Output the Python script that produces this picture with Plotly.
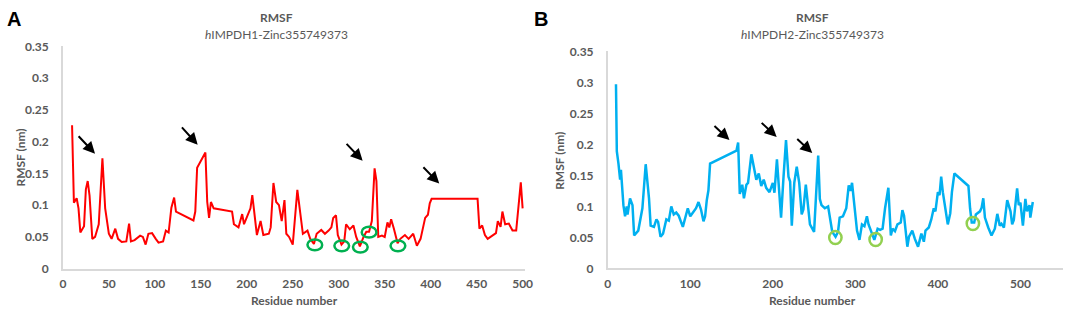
import plotly.graph_objects as go

# ---------------- data ----------------
a_residue = [10, 12, 15, 17, 19, 23, 25, 27, 29, 32, 35, 39, 43, 46, 50, 53, 57, 60, 64, 69,
             72, 74, 78, 84, 87, 90, 93, 97, 101, 104, 109, 112, 115, 118, 121, 123, 142, 144, 146, 155,
             157, 159, 161, 164, 184, 186, 191, 195, 197, 200, 204, 206, 209, 211, 215, 218, 224, 226, 229, 232,
             235, 238, 241, 243, 246, 250, 255, 258, 261, 266, 269, 273, 276, 281, 285, 289, 292, 294, 297, 299,
             303, 306, 308, 312, 316, 319, 323, 327, 330, 333, 336, 339, 341, 343, 347, 350, 353, 355, 357, 360,
             364, 367, 372, 376, 381, 385, 389, 394, 397, 399, 401, 451, 453, 456, 459, 462, 468, 471, 473, 476,
             478, 481, 485, 489, 493, 496, 498, 500]
a_rmsf = [0.226, 0.104, 0.111, 0.095, 0.057, 0.067, 0.125, 0.138, 0.115, 0.047, 0.050, 0.070, 0.174, 0.095, 0.055, 0.047, 0.063, 0.047, 0.042, 0.043,
          0.071, 0.043, 0.045, 0.052, 0.050, 0.038, 0.055, 0.056, 0.047, 0.041, 0.043, 0.060, 0.057, 0.096, 0.112, 0.090, 0.076, 0.090, 0.159, 0.183,
          0.105, 0.080, 0.105, 0.095, 0.090, 0.070, 0.065, 0.086, 0.070, 0.080, 0.095, 0.116, 0.080, 0.053, 0.075, 0.053, 0.055, 0.065, 0.135, 0.105,
          0.100, 0.075, 0.108, 0.055, 0.050, 0.038, 0.124, 0.085, 0.055, 0.060, 0.047, 0.039, 0.055, 0.061, 0.055, 0.060, 0.065, 0.080, 0.084, 0.053,
          0.038, 0.043, 0.070, 0.062, 0.068, 0.050, 0.035, 0.050, 0.058, 0.058, 0.075, 0.158, 0.138, 0.050, 0.052, 0.050, 0.073, 0.065, 0.078, 0.063,
          0.040, 0.047, 0.053, 0.047, 0.055, 0.036, 0.047, 0.080, 0.085, 0.103, 0.110, 0.110, 0.063, 0.068, 0.053, 0.047, 0.053, 0.056, 0.075, 0.066,
          0.090, 0.070, 0.071, 0.060, 0.060, 0.100, 0.136, 0.095]

b_residue = [10, 11, 13, 15, 16, 17, 19, 21, 23, 24, 27, 30, 32, 37, 40, 42, 46, 50, 52, 56,
             59, 61, 64, 67, 71, 74, 77, 80, 83, 86, 91, 97, 100, 103, 107, 110, 113, 116, 118, 120,
             122, 124, 156, 158, 160, 163, 165, 168, 170, 174, 177, 180, 183, 186, 189, 192, 196, 200, 202, 205,
             207, 210, 213, 216, 219, 221, 223, 226, 229, 232, 235, 237, 240, 243, 245, 250, 252, 255, 257, 259,
             263, 267, 272, 276, 279, 281, 285, 289, 292, 294, 296, 299, 302, 305, 308, 311, 314, 316, 319, 323,
             327, 330, 333, 336, 340, 343, 345, 348, 351, 355, 357, 359, 363, 365, 369, 372, 376, 380, 383, 385,
             389, 392, 395, 397, 400, 402, 404, 406, 409, 412, 415, 417, 420, 437, 439, 441, 444, 446, 451, 453,
             455, 457, 461, 465, 469, 472, 475, 477, 480, 484, 488, 490, 492, 496, 498, 500, 503, 506, 508, 511,
             512, 515]
b_rmsf = [0.297, 0.189, 0.169, 0.143, 0.159, 0.140, 0.102, 0.084, 0.100, 0.087, 0.113, 0.102, 0.053, 0.061, 0.082, 0.097, 0.168, 0.113, 0.069, 0.067,
          0.079, 0.075, 0.051, 0.056, 0.079, 0.077, 0.100, 0.087, 0.090, 0.085, 0.067, 0.097, 0.084, 0.090, 0.097, 0.107, 0.095, 0.076, 0.084, 0.110,
          0.126, 0.169, 0.190, 0.203, 0.120, 0.135, 0.113, 0.135, 0.138, 0.184, 0.164, 0.143, 0.153, 0.133, 0.143, 0.130, 0.123, 0.138, 0.122, 0.176,
          0.138, 0.082, 0.148, 0.207, 0.148, 0.140, 0.069, 0.138, 0.164, 0.138, 0.087, 0.095, 0.135, 0.102, 0.071, 0.059, 0.112, 0.182, 0.112, 0.102,
          0.097, 0.100, 0.059, 0.051, 0.059, 0.082, 0.084, 0.097, 0.134, 0.125, 0.138, 0.097, 0.061, 0.046, 0.071, 0.068, 0.084, 0.071, 0.059, 0.046,
          0.064, 0.062, 0.064, 0.097, 0.130, 0.053, 0.064, 0.060, 0.071, 0.074, 0.094, 0.085, 0.035, 0.051, 0.061, 0.048, 0.035, 0.056, 0.043, 0.061,
          0.066, 0.079, 0.097, 0.092, 0.123, 0.118, 0.148, 0.123, 0.097, 0.071, 0.089, 0.123, 0.153, 0.133, 0.097, 0.074, 0.074, 0.087, 0.092, 0.098,
          0.113, 0.082, 0.066, 0.053, 0.064, 0.088, 0.069, 0.072, 0.066, 0.110, 0.092, 0.071, 0.078, 0.129, 0.102, 0.106, 0.069, 0.112, 0.092, 0.102,
          0.082, 0.107]

y_ticks = [0, 0.05, 0.1, 0.15, 0.2, 0.25, 0.3, 0.35]
y_tick_text = ["0", "0.05", "0.1", "0.15", "0.2", "0.25", "0.3", "0.35"]
a_x_ticks = [0, 50, 100, 150, 200, 250, 300, 350, 400, 450, 500]
b_x_ticks = [0, 100, 200, 300, 400, 500]

# arrows: (tail residue, tail value, head residue, head value)
a_arrows = [(15.6, 0.211, 35, 0.181), (128, 0.225, 146.6, 0.195),
            (307, 0.199, 326, 0.170), (390.5, 0.162, 409.3, 0.134)]
b_arrows = [(127.5, 0.232, 147.5, 0.207), (184.7, 0.237, 204.7, 0.212),
            (227.8, 0.211, 247.8, 0.186)]
# highlighted residues (residue, value)
a_marks = [(274, 0.0375), (303.3, 0.036), (323.5, 0.034), (333, 0.0575), (364.4, 0.036)]
b_marks = [(275.8, 0.0497), (324.6, 0.0466), (442.4, 0.0723)]

# ---------------- figure ----------------
W, H = 1072, 325
FONT = "Lato"
GREY = "#595959"

fig = go.Figure()
fig.add_trace(go.Scatter(x=a_residue, y=a_rmsf, mode="lines",
                         line=dict(color="#ff0000", width=2), xaxis="x", yaxis="y", showlegend=False))
fig.add_trace(go.Scatter(x=b_residue, y=b_rmsf, mode="lines",
                         line=dict(color="#00b0f0", width=2.5), xaxis="x2", yaxis="y2", showlegend=False))

def px(x):
    return x / W

def py(y):
    return 1 - y / H

axis_common = dict(showgrid=False, zeroline=False, showline=True, linecolor="#d9d9d9", linewidth=1.5,
                   ticks="", tickfont=dict(family=FONT, size=12, color=GREY, weight="bold"),
                   fixedrange=True)

fig.update_layout(
    width=W, height=H, margin=dict(l=0, r=0, t=0, b=0),
    paper_bgcolor="white", plot_bgcolor="white",
    xaxis=dict(domain=[px(60.5), px(527.8)], range=[0, 503], tickvals=a_x_ticks,
               anchor="y", ticklabelstandoff=3, **axis_common),
    yaxis=dict(domain=[py(273.3), py(40.3)], range=[0, 0.35], tickvals=y_ticks, ticktext=y_tick_text,
               anchor="x", ticklabelstandoff=10, **axis_common),
    xaxis2=dict(domain=[px(611), px(1070.5)], range=[0, 551], tickvals=b_x_ticks,
                anchor="y2", ticklabelstandoff=3, **axis_common),
    yaxis2=dict(domain=[py(273), py(45.5)], range=[0, 0.35], tickvals=y_ticks, ticktext=y_tick_text,
                anchor="x2", ticklabelstandoff=10, **axis_common),
)

ann = []
# panel letters
ann.append(dict(x=px(11), y=py(12), text="<b>A</b>", font=dict(family="Liberation Sans", size=20, color="black")))
ann.append(dict(x=px(544), y=py(12), text="<b>B</b>", font=dict(family="Liberation Sans", size=20, color="black")))
# titles
for cx, name in [(276, "<i>h</i>IMPDH1-Zinc355749373"), (818, "<i>h</i>IMPDH2-Zinc355749373")]:
    ann.append(dict(x=px(cx), y=py(10), text="<b>RMSF</b>", font=dict(family=FONT, size=12, color=GREY)))
    ann.append(dict(x=px(cx), y=py(28), text=name, font=dict(family=FONT, size=12, color=GREY)))
# axis titles
for cx in [295, 818]:
    ann.append(dict(x=px(cx), y=py(307), text="<b>Residue number</b>", font=dict(family=FONT, size=12, color=GREY)))
for cx, cy in [(18, 157), (562, 160)]:
    ann.append(dict(x=px(cx), y=py(cy), text="<b>RMSF (nm)</b>", textangle=-90,
                    font=dict(family=FONT, size=12, color=GREY)))
for a in ann:
    a.update(xref="paper", yref="paper", showarrow=False, xanchor="center", yanchor="middle")

# arrows
for arrows, xr, yr in [(a_arrows, "x", "y"), (b_arrows, "x2", "y2")]:
    for tx, ty, hx, hy in arrows:
        ann.append(dict(x=hx, y=hy, ax=tx, ay=ty, xref=xr, yref=yr, axref=xr, ayref=yr,
                        showarrow=True, arrowhead=2, arrowsize=1.2, arrowwidth=2, arrowcolor="black", text=""))
fig.update_layout(annotations=ann)

# circles
shapes = []
for r, v in a_marks:
    shapes.append(dict(type="circle", xref="x", yref="y", x0=r - 8, x1=r + 8, y0=v - 0.0085, y1=v + 0.0085,
                       line=dict(color="#00b050", width=2.5)))
for r, v in b_marks:
    shapes.append(dict(type="circle", xref="x2", yref="y2", x0=r - 7.5, x1=r + 7.5, y0=v - 0.0105, y1=v + 0.0105,
                       line=dict(color="#92d050", width=2.5)))
fig.update_layout(shapes=shapes)

fig.write_html("out.html", config={"displayModeBar": False},
               post_script="document.body.style.margin='0';document.body.style.overflow='hidden';")
